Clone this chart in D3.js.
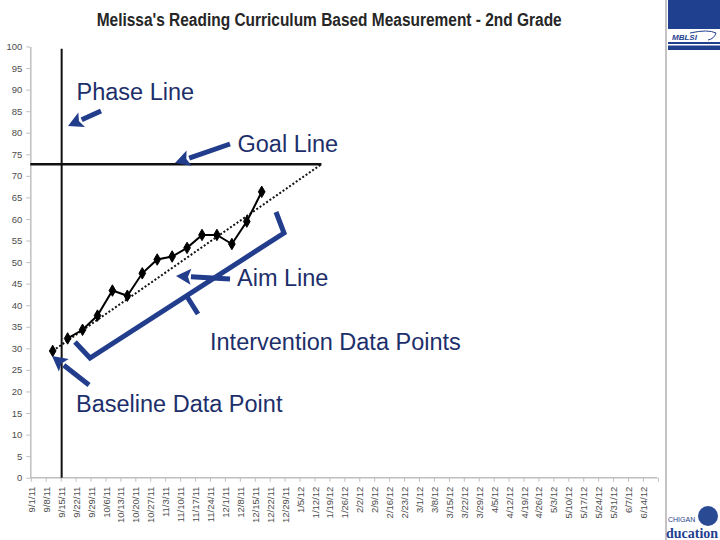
<!DOCTYPE html>
<html>
<head>
<meta charset="utf-8">
<script src="https://cdn.jsdelivr.net/npm/d3@7"></script>
<style>
  html, body { margin: 0; padding: 0; background: #fff; }
  svg { display: block; }
</style>
</head>
<body>
<div id="chart"></div>
<script>
// chart data
const titleText = "Melissa's Reading Curriculum Based Measurement - 2nd Grade";

const weeks = ["9/1/11", "9/8/11", "9/15/11", "9/22/11", "9/29/11", "10/6/11", "10/13/11",
  "10/20/11", "10/27/11", "11/3/11", "11/10/11", "11/17/11", "11/24/11", "12/1/11", "12/8/11",
  "12/15/11", "12/22/11", "12/29/11", "1/5/12", "1/12/12", "1/19/12", "1/26/12", "2/2/12",
  "2/9/12", "2/16/12", "2/23/12", "3/1/12", "3/8/12", "3/15/12", "3/22/12", "3/29/12", "4/5/12",
  "4/12/12", "4/19/12", "4/26/12", "5/3/12", "5/10/12", "5/17/12", "5/24/12", "5/31/12",
  "6/7/12", "6/14/12"];

const yTicks = [0, 5, 10, 15, 20, 25, 30, 35, 40, 45, 50, 55, 60, 65, 70, 75, 80, 85, 90, 95, 100];

const baselineWeeks = ["9/8/11"];
const baselineScores = [29.4];

const interventionWeeks = ["9/15/11", "9/22/11", "9/29/11", "10/6/11", "10/13/11", "10/20/11",
  "10/27/11", "11/3/11", "11/10/11", "11/17/11", "11/24/11", "12/1/11", "12/8/11", "12/15/11"];
const interventionScores = [32.3, 34.3, 37.6, 43.4, 42.2, 47.4, 50.6, 51.3, 53.3, 56.3, 56.3, 54.2, 59.4, 66.3];

const goalScore = 72.7;
const goalWeek = "1/12/12";
const phaseWeek = "9/15/11";

const W = 720, H = 540;
const svg = d3.select("#chart").append("svg")
  .attr("width", W)
  .attr("height", H)
  .style("font-family", "'Liberation Sans', Arial, sans-serif");

svg.append("rect").attr("width", W).attr("height", H).attr("fill", "#fff");

const x = d3.scaleBand().domain(weeks).range([30.3, 657.4]).padding(0);
const y = d3.scaleLinear().domain([0, 100]).range([477.7, 46.5]);
const cx = d => x(d) + x.bandwidth() / 2;

const axisColor = "#bfbfbf";
const tickColor = "#4d4d4d";

// title
svg.append("text")
  .attr("x", 329.2)
  .attr("y", 26)
  .attr("text-anchor", "middle")
  .attr("textLength", 465)
  .attr("lengthAdjust", "spacingAndGlyphs")
  .style("font-family", "'Liberation Sans Narrow', 'Liberation Sans', Arial, sans-serif")
  .style("font-weight", "bold")
  .style("font-size", "18px")
  .attr("fill", "#262626")
  .text(titleText);

// y axis
const yAxis = svg.append("g")
  .attr("transform", `translate(${x.range()[0]},0)`)
  .call(d3.axisLeft(y).tickValues(yTicks).tickSize(4).tickSizeOuter(0).tickPadding(4));
yAxis.select(".domain").attr("stroke", axisColor).attr("stroke-width", 1.5);
yAxis.selectAll(".tick line").attr("stroke", axisColor);
yAxis.selectAll(".tick text")
  .attr("fill", tickColor)
  .style("font-size", "9.5px")
  .style("font-family", "'Liberation Sans', Arial, sans-serif");

// x axis (Excel style: ticks between categories)
const xAxis = svg.append("g");
xAxis.append("line")
  .attr("x1", x.range()[0]).attr("x2", x.range()[1])
  .attr("y1", y(0)).attr("y2", y(0))
  .attr("stroke", axisColor).attr("stroke-width", 1.5);
xAxis.selectAll("line.tk")
  .data(weeks.map(d => x(d)).concat([x.range()[1]]))
  .enter().append("line")
  .attr("class", "tk")
  .attr("x1", d => d + 1).attr("x2", d => d + 1)
  .attr("y1", y(0)).attr("y2", y(0) + 4)
  .attr("stroke", axisColor);
xAxis.selectAll("text")
  .data(weeks)
  .enter().append("text")
  .attr("transform", d => `translate(${x(d) + 1.5},${y(0) + 9}) rotate(-90)`)
  .attr("dy", "0.32em")
  .attr("text-anchor", "end")
  .attr("fill", tickColor)
  .style("font-size", "9.5px")
  .text(d => d);

// phase line
const phaseX = x(phaseWeek) + 1.5;
svg.append("line")
  .attr("x1", phaseX).attr("x2", phaseX)
  .attr("y1", y(99.5)).attr("y2", y(0))
  .attr("stroke", "#111").attr("stroke-width", 2);

// goal line
svg.append("line")
  .attr("x1", x.range()[0]).attr("x2", cx(goalWeek))
  .attr("y1", y(goalScore)).attr("y2", y(goalScore))
  .attr("stroke", "#111").attr("stroke-width", 2.5);

// aim line
svg.append("line")
  .attr("x1", cx(baselineWeeks[0])).attr("y1", y(baselineScores[0]))
  .attr("x2", cx(goalWeek)).attr("y2", y(goalScore))
  .attr("stroke", "#111").attr("stroke-width", 2)
  .attr("stroke-dasharray", "2,2");

// intervention data
const interventionData = interventionWeeks.map((w, i) => ({ week: w, score: interventionScores[i] }));
const baselineData = baselineWeeks.map((w, i) => ({ week: w, score: baselineScores[i] }));

svg.append("path")
  .datum(interventionData)
  .attr("fill", "none")
  .attr("stroke", "#000")
  .attr("stroke-width", 2)
  .attr("d", d3.line().x(d => cx(d.week)).y(d => y(d.score)));

const diamond = d3.symbol().type(d3.symbolDiamond).size(38);
svg.selectAll("path.pt")
  .data(interventionData.concat(baselineData))
  .enter().append("path")
  .attr("class", "pt")
  .attr("transform", d => `translate(${cx(d.week)},${y(d.score)})`)
  .attr("d", diamond)
  .attr("fill", "#000")
  .attr("stroke", "#000")
  .attr("stroke-width", 1)
  .attr("stroke-linejoin", "round");

// annotations
const blue = "#213d8c";
const labelBlue = "#1d2f6a";
const ann = svg.append("g");

function arrow(x1, y1, x2, y2) {
  const ang = Math.atan2(y2 - y1, x2 - x1);
  const headLen = 15, headW = 8;
  const bx = x2 - headLen * Math.cos(ang), by = y2 - headLen * Math.sin(ang);
  ann.append("line")
    .attr("x1", x1).attr("y1", y1).attr("x2", bx).attr("y2", by)
    .attr("stroke", blue).attr("stroke-width", 5);
  const pts = [
    [x2, y2],
    [bx + headW * Math.sin(ang), by - headW * Math.cos(ang)],
    [bx + 3 * Math.cos(ang), by + 3 * Math.sin(ang)],
    [bx - headW * Math.sin(ang), by + headW * Math.cos(ang)]
  ];
  ann.append("polygon")
    .attr("points", pts.map(p => p.join(",")).join(" "))
    .attr("fill", blue);
}

arrow(101, 111, 68, 126);
arrow(230, 144, 175, 163);
arrow(230, 279, 176, 276);
arrow(89, 385, 52, 356);

// bracket round the intervention points
ann.append("polyline")
  .attr("points", "276,212 284,233 90,358 75,342")
  .attr("fill", "none")
  .attr("stroke", blue)
  .attr("stroke-width", 5)
  .attr("stroke-linejoin", "miter");
ann.append("line")
  .attr("x1", 186).attr("y1", 295).attr("x2", 198).attr("y2", 314)
  .attr("stroke", blue).attr("stroke-width", 5);

const labels = [
  { text: "Phase Line", x: 76.5, y: 100 },
  { text: "Goal Line", x: 237.5, y: 152 },
  { text: "Aim Line", x: 237, y: 286 },
  { text: "Intervention Data Points", x: 210, y: 350 },
  { text: "Baseline Data Point", x: 76, y: 412 }
];
ann.selectAll("text")
  .data(labels)
  .enter().append("text")
  .attr("x", d => d.x)
  .attr("y", d => d.y)
  .attr("fill", labelBlue)
  .style("font-size", "23.5px")
  .text(d => d.text);

// slide decoration on the right
const deco = svg.append("g");
deco.append("line")
  .attr("x1", 666).attr("x2", 666).attr("y1", 0).attr("y2", H)
  .attr("stroke", "#c4c4c4").attr("stroke-width", 2);
deco.append("rect").attr("x", 668).attr("y", 0).attr("width", 52).attr("height", 50).attr("fill", "#1f3f8f");
deco.append("rect").attr("x", 668).attr("y", 29).attr("width", 52).attr("height", 13).attr("fill", "#fff");
deco.append("rect").attr("x", 668).attr("y", 44).attr("width", 52).attr("height", 1.5).attr("fill", "#fff");
deco.append("text")
  .attr("x", 672).attr("y", 40)
  .attr("fill", "#1f3f8f")
  .style("font-size", "8px")
  .style("font-style", "italic")
  .style("font-weight", "bold")
  .text("MBLSI");
deco.append("path")
  .attr("d", "M690,33 Q708,29 716,33 Q714,39 708,40")
  .attr("fill", "none").attr("stroke", "#1f3f8f").attr("stroke-width", 1);

deco.append("circle").attr("cx", 708).attr("cy", 516).attr("r", 10).attr("fill", "#2a4a93");
deco.append("text")
  .attr("x", 668).attr("y", 522)
  .attr("fill", "#1f3f8f")
  .style("font-size", "7px")
  .text("CHIGAN");
deco.append("text")
  .attr("x", 666).attr("y", 538)
  .attr("fill", "#1f3f8f")
  .style("font-size", "14px")
  .style("font-weight", "bold")
  .style("font-family", "'Liberation Serif', serif")
  .text("ducation");
</script>
</body>
</html>
